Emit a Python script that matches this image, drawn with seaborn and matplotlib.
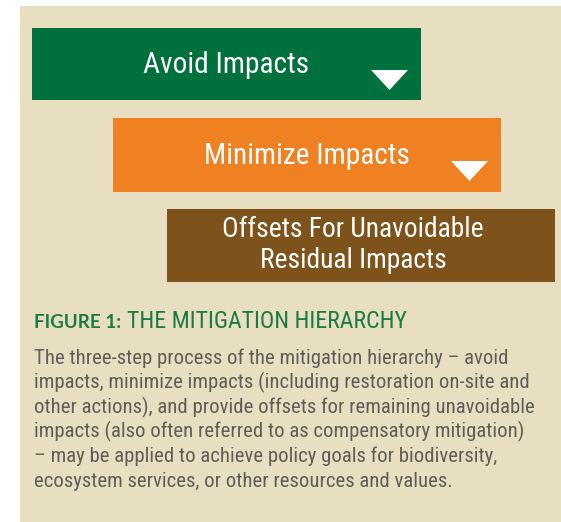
import pandas as pd
import seaborn as sns
import matplotlib.pyplot as plt
from matplotlib.patches import Rectangle, Polygon

# steps of the hierarchy (horizontal extent of each box, in pixels of the page)
steps = ['Avoid Impacts', 'Minimize Impacts', 'Offsets For Unavoidable\nResidual Impacts']
bar_start = [32, 113, 167]
bar_end = [421, 501, 555]
has_arrow = [True, True, False]
colors = ['#00703c', '#ef8122', '#7d531b']

caption_bold = 'FIGURE 1:'
caption_rest = 'THE MITIGATION HIERARCHY'
body_lines = [
    'The three-step process of the mitigation hierarchy \u2013 avoid',
    'impacts, minimize impacts (including restoration on-site and',
    'other actions), and provide offsets for remaining unavoidable',
    'impacts (also often referred to as compensatory mitigation)',
    '\u2013 may be applied to achieve policy goals for biodiversity,',
    'ecosystem services, or other resources and values.',
]

df = pd.DataFrame({'step': steps, 'start': bar_start, 'end': bar_end,
                   'arrow': has_arrow, 'color': colors})

sns.set_theme(style='white')
narrow = ['Roboto Condensed', 'Archivo Narrow', 'Barlow Condensed', 'DejaVu Sans']
bold_face = ['Lato', 'Liberation Sans', 'DejaVu Sans']
plt.rcParams['font.family'] = narrow

fig = plt.figure(figsize=(5.61, 5.22), dpi=100)
fig.patch.set_facecolor('white')
ax = fig.add_axes([0, 0, 1, 1])
ax.set_xlim(0, 561)
ax.set_ylim(522, 0)
ax.axis('off')
renderer = fig.canvas.get_renderer()


def fit(t, width):
    # scale the font so the text spans the width seen in the reference
    w = t.get_window_extent(renderer).width
    t.set_fontsize(t.get_fontsize() * width / w)
    return t


# beige panel
ax.add_patch(Rectangle((20, 6), 541, 516, facecolor='#e8dec2', edgecolor='none', zorder=0))

row_y = [64, 155, 245.5]
row_h = [72, 74, 73]
ax.barh(row_y, df.end - df.start, left=df.start, height=row_h,
        color=df.color, edgecolor='none', zorder=2)

label_w = [166, 206, 261]
for i, r in df.iterrows():
    cx = (r.start + r.end) / 2
    if r.arrow:
        t = ax.text(cx, row_y[i] + 1, r.step, color='white', fontsize=20,
                    ha='center', va='center', zorder=3)
        fit(t, label_w[i])
        tx = r.end - 13
        ax.add_patch(Polygon([[tx - 37, row_y[i] + 6], [tx, row_y[i] + 6],
                              [tx - 18.5, row_y[i] + 26]],
                             closed=True, facecolor='white', edgecolor='none', zorder=3))
    else:
        first, second = r.step.split('\n')
        t1 = ax.text(cx - 8, row_y[i] - 16, first, color='white', fontsize=20,
                     ha='center', va='center', zorder=3)
        fit(t1, label_w[i])
        ax.text(cx - 8, row_y[i] + 15, second, color='white', fontsize=t1.get_fontsize(),
                ha='center', va='center', zorder=3)

# caption
t = ax.text(34, 328, caption_bold, color='#1b7a44', fontsize=14, fontweight='bold',
            family=bold_face, ha='left', va='baseline')
fit(t, 88)
t2 = ax.text(127, 328, caption_rest, color='#1b7a44', fontsize=14,
             ha='left', va='baseline')
fit(t2, 281)

body = [ax.text(34, 364 + k * 24.6, line, color='#615c57', fontsize=14,
                ha='left', va='baseline') for k, line in enumerate(body_lines)]
fit(body[1], 498)
for b in body:
    b.set_fontsize(body[1].get_fontsize())

fig.savefig('out.png', dpi=100, facecolor='white')
